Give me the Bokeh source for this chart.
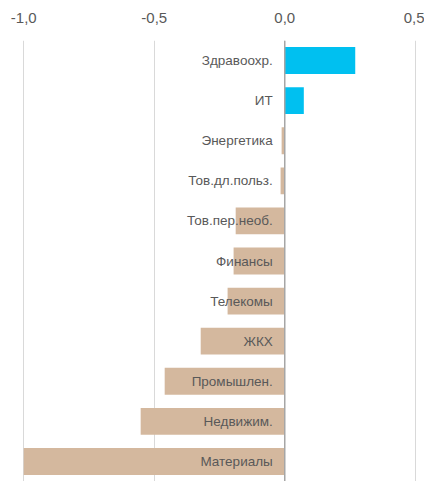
from bokeh.plotting import figure
from bokeh.models import ColumnDataSource, FactorRange, FixedTicker, Span, Range1d
from bokeh.core.properties import value
from bokeh.embed import file_html
from bokeh.resources import INLINE

sectors = ["Здравоохр.", "ИТ", "Энергетика", "Тов.дл.польз.", "Тов.пер.необ.",
           "Финансы", "Телекомы", "ЖКХ", "Промышлен.", "Недвижим.", "Материалы"]
values = [0.27, 0.073, -0.012, -0.016, -0.188, -0.196, -0.219, -0.322, -0.46, -0.552, -1.0]
tick_values = [-1.0, -0.5, 0.0, 0.5]
tick_labels = ["-1,0", "-0,5", "0,0", "0,5"]

POS = "#00C0F0"
NEG = "#D4B89E"
colors = [POS if v >= 0 else NEG for v in values]

src = ColumnDataSource(dict(sector=sectors, val=values, color=colors,
                            zero=[0] * len(values)))

p = figure(width=424, height=481, output_backend="svg", toolbar_location=None,
           y_range=FactorRange(factors=sectors[::-1]),
           x_range=Range1d(-1.02, 0.52), x_axis_location="above",
           min_border_left=18, min_border_right=4, min_border_top=40,
           min_border_bottom=0)
p.outline_line_color = None

p.hbar(y="sector", left="zero", right="val", height=0.67, color="color",
       line_color=None, source=src)

p.add_layout(Span(location=0, dimension="height", line_color="#a6a6a6",
                  line_width=1.5))

p.text(x="zero", y="sector", text="sector", source=src, x_offset=-12,
       text_align="right", text_baseline="middle",
       text_font=value("Liberation Sans"), text_font_size="13.5px",
       text_color="#595959")

p.xaxis.ticker = FixedTicker(ticks=tick_values)
p.xaxis.major_label_overrides = {t: l for t, l in zip(tick_values, tick_labels)}
p.xaxis.axis_line_color = None
p.xaxis.major_tick_line_color = None
p.xaxis.minor_tick_line_color = None
p.xaxis.major_label_standoff = 12
p.xaxis.major_label_text_font = "Liberation Sans"
p.xaxis.major_label_text_font_size = "15px"
p.xaxis.major_label_text_color = "#595959"
p.xgrid.grid_line_color = "#d9d9d9"
p.xgrid.grid_line_width = 1
p.ygrid.grid_line_color = None
p.yaxis.visible = False

open("out.html", "w").write(file_html(p, INLINE))
